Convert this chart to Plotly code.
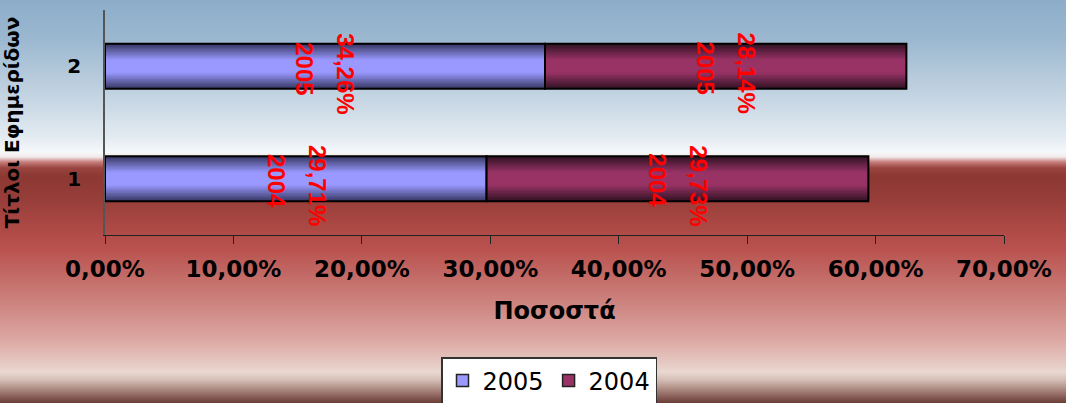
import base64
import struct
import zlib

import plotly.graph_objects as go

# ---------------- data ----------------
categories = ["1", "2"]
series_names = ["2005", "2004"]
values_2005 = [29.71, 34.26]
values_2004 = [29.73, 28.14]
label_years = ["2004", "2005"]  # year text shown in each category's data labels
x_tick_values = [0, 10, 20, 30, 40, 50, 60, 70]
x_tick_labels = [("%.2f" % v).replace(".", ",") + "%" for v in x_tick_values]

# ---------------- styles ----------------
W, H = 1066, 403
M_L, M_R, M_T, M_B = 105, 62, 10, 168
PW, PH = W - M_L - M_R, H - M_T - M_B

series_center = {"2005": (0x99, 0x99, 0xFF), "2004": (0x99, 0x33, 0x66)}
series_edge = {"2005": (0x3A, 0x3A, 0x68), "2004": (0x34, 0x14, 0x26)}
legend_color = {"2005": "#9999FF", "2004": "#993366"}
BAR_W = 0.40
N_LAYERS = 14


def mix(c1, c2, t):
    return tuple(int(round(a + (b - a) * t)) for a, b in zip(c1, c2))


def hexrgb(h):
    h = h.lstrip("#")
    return tuple(int(h[i:i + 2], 16) for i in (0, 2, 4))


# background gradient (vertical), built as a tiny PNG
bg_stops = [
    (0, "#8CADC9"), (40, "#9CB8D0"), (100, "#C6D6E3"), (140, "#E6EDF3"),
    (152, "#F6F8FA"), (157, "#F2EAEA"), (162, "#C67E7C"), (168, "#9A4440"),
    (176, "#8C3832"), (200, "#983E3A"), (230, "#AE4A46"), (250, "#BA5350"),
    (280, "#C46E6A"), (310, "#D08A86"), (340, "#DCA8A3"), (360, "#E4C4BE"),
    (372, "#EAD8D1"), (380, "#D4BEB6"), (390, "#A8857D"), (403, "#6A3C36"),
]


def bg_color(y):
    for (y0, c0), (y1, c1) in zip(bg_stops, bg_stops[1:]):
        if y0 <= y <= y1:
            t = (y - y0) / (y1 - y0) if y1 > y0 else 0
            return mix(hexrgb(c0), hexrgb(c1), t)
    return hexrgb(bg_stops[-1][1])


def make_png(rows, width=4):
    raw = b"".join(b"\x00" + bytes(rgb) * width for rgb in rows)

    def chunk(tag, data):
        return (struct.pack(">I", len(data)) + tag + data
                + struct.pack(">I", zlib.crc32(tag + data) & 0xFFFFFFFF))

    ihdr = struct.pack(">IIBBBBB", width, len(rows), 8, 2, 0, 0, 0)
    png = (b"\x89PNG\r\n\x1a\n" + chunk(b"IHDR", ihdr)
           + chunk(b"IDAT", zlib.compress(raw, 9)) + chunk(b"IEND", b""))
    return "data:image/png;base64," + base64.b64encode(png).decode()


bg_src = make_png([bg_color(y + 0.5) for y in range(H)])

# ---------------- figure ----------------
fig = go.Figure()

series_values = {"2005": values_2005, "2004": values_2004}
bases = {"2005": [0] * len(categories), "2004": list(values_2005)}

for name in series_names:
    vals = series_values[name]
    base = bases[name]
    for k in range(N_LAYERS):
        t = k / (N_LAYERS - 1)
        w = BAR_W * (1 - 0.8 * t)
        col = mix(series_edge[name], series_center[name], min(1.0, t * 1.15))
        fig.add_trace(go.Bar(
            y=categories, x=vals, base=base, orientation="h", width=w,
            marker=dict(color="rgb(%d,%d,%d)" % col, line=dict(width=0)),
            showlegend=False, hoverinfo="skip",
        ))
    # black outline on top
    fig.add_trace(go.Bar(
        y=categories, x=vals, base=base, orientation="h", width=BAR_W,
        marker=dict(color="rgba(0,0,0,0)", line=dict(color="#000000", width=2)),
        showlegend=False, hoverinfo="skip",
    ))

# legend-only entries
for name in series_names:
    fig.add_trace(go.Bar(
        y=[None], x=[None], orientation="h", name=name,
        marker=dict(color=legend_color[name], line=dict(color="#222222", width=1.5)),
    ))

# data labels (rotated, red)
label_font = dict(family="Liberation Sans, Arial", size=24, color="#FF0000", weight="bold")
annotations = []
for i, cat in enumerate(categories):
    for name in series_names:
        v = series_values[name][i]
        center = bases[name][i] + v / 2
        val_txt = ("%.2f" % v).replace(".", ",") + "%"
        annotations.append(dict(
            x=center, y=i, xref="x", yref="y", text=val_txt, showarrow=False,
            textangle=90, xshift=21, yshift=-7, font=label_font,
        ))
        annotations.append(dict(
            x=center, y=i, xref="x", yref="y", text=label_years[i], showarrow=False,
            textangle=90, xshift=-20, yshift=-2, font=label_font,
        ))

fig.update_layout(
    width=W, height=H,
    margin=dict(l=M_L, r=M_R, t=M_T, b=M_B, pad=0, autoexpand=False),
    barmode="overlay",
    separators=",.",
    paper_bgcolor="#C06A66",
    plot_bgcolor="rgba(0,0,0,0)",
    images=[dict(
        source=bg_src, xref="paper", yref="paper",
        x=-M_L / PW, y=1 + M_T / PH, sizex=W / PW, sizey=H / PH,
        xanchor="left", yanchor="top", sizing="stretch", layer="below",
    )],
    xaxis=dict(
        range=[0, 70], tickvals=x_tick_values, ticktext=x_tick_labels,
        showgrid=False, zeroline=False, showline=True, linecolor="#222222", linewidth=1,
        ticks="outside", ticklen=8, tickcolor="#222222", tickwidth=1,
        tickfont=dict(family="DejaVu Sans", size=23, color="#000000", weight="bold"),
        ticklabelstandoff=5, automargin=False,
        title=dict(text="Ποσοστά", standoff=21,
                   font=dict(family="DejaVu Sans", size=24, color="#000000", weight="bold")),
    ),
    yaxis=dict(
        type="category", categoryorder="array", categoryarray=categories,
        range=[-0.5, 1.5], showgrid=False, zeroline=False,
        showline=True, linecolor="#555555", linewidth=1.5, ticks="",
        tickfont=dict(family="DejaVu Sans", size=20, color="#000000", weight="bold"),
        ticklabelstandoff=18, automargin=False,
        title=dict(text="Τίτλοι Εφημερίδων", standoff=47,
                   font=dict(family="DejaVu Sans", size=20, color="#000000", weight="bold")),
    ),
    legend=dict(
        orientation="h", x=(549 - M_L) / PW, xanchor="center",
        y=-(357 - (M_T + PH)) / PH, yanchor="top",
        bgcolor="#FFFFFF", bordercolor="#333333", borderwidth=1.5,
        font=dict(family="DejaVu Sans", size=24, color="#000000"),
        itemwidth=30, traceorder="normal",
    ),
    annotations=annotations,
    showlegend=True,
)

fig.write_html(
    "out.html",
    config={"displayModeBar": False},
    post_script="document.body.style.margin='0';document.body.style.overflow='hidden';",
)
